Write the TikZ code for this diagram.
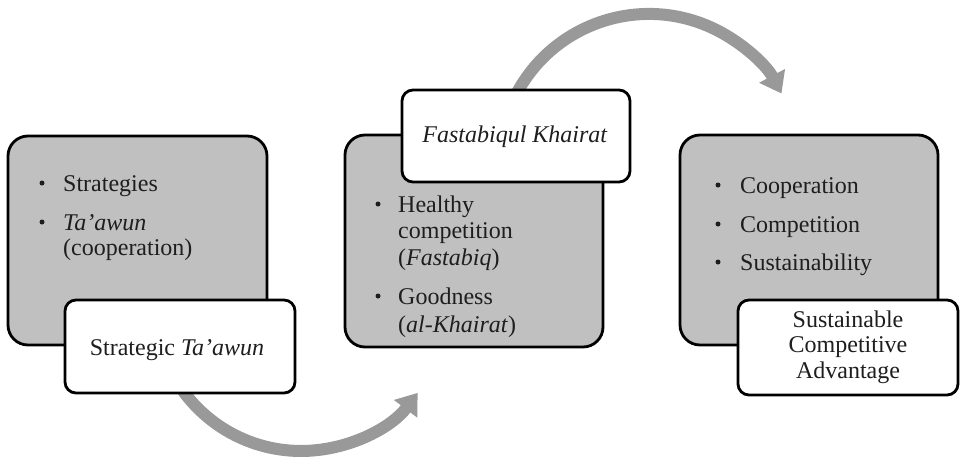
\documentclass[tikz,border=0pt]{standalone}
\usepackage{fontspec}
\setmainfont{Liberation Serif}
\usetikzlibrary{arrows.meta}
\definecolor{boxgray}{RGB}{192,192,192}
\definecolor{arrowgray}{RGB}{153,153,153}
\definecolor{txt}{RGB}{30,30,30}
\begin{document}
\begin{tikzpicture}[x=1pt,y=-1pt,
 graybox/.style={rectangle, draw=black, line width=2.8pt, fill=boxgray, rounded corners=20pt, inner sep=0pt},
 whitebox/.style={rectangle, draw=black, line width=2.8pt, fill=white, rounded corners=11pt, inner sep=0pt},
 band/.style={draw=arrowgray, line width=12pt, -{Triangle[length=20pt,width=28pt]}},
 txtnode/.style={inner sep=0pt, text=txt},
 bul/.style={circle, fill=txt, inner sep=0pt, minimum size=5pt},
]
\fill[white] (0,0) rectangle (964,464);
\useasboundingbox (0,0) rectangle (964,464);

% arrows
\coordinate (a1s) at (178.6,384.5);
\coordinate (a2s) at (514.2,98.2);
\draw[band] (a1s) arc[start angle=147, end angle=37, radius=146];
\draw[band] (a2s) arc[start angle=206, end angle=332, radius=150];

% gray boxes
\node[graybox, minimum width=259pt, minimum height=209pt] (g1) at (137.5,240.5) {};
\node[graybox, minimum width=258pt, minimum height=212pt] (g2) at (474,241) {};
\node[graybox, minimum width=258pt, minimum height=210pt] (g3) at (809,240) {};

% white boxes
\node[whitebox, minimum width=230pt, minimum height=93pt] (w1) at (180,346.5) {};
\node[whitebox, minimum width=228pt, minimum height=92pt] (w2) at (516,136) {};
\node[whitebox, minimum width=220pt, minimum height=95pt] (w3) at (848,347.5) {};

% box 1 text (base anchor = last line baseline)
\node[bul] (b1a) at (42,183) {};
\node[bul] (b1b) at (42,222) {};
\node[txtnode, anchor=base west, align=left, font=\fontsize{24}{25}\selectfont] (t1a) at (63,191) {Strategies};
\node[txtnode, anchor=base west, align=left, font=\fontsize{24}{25}\selectfont] (t1b) at (63,255) {\textit{Ta’awun}\\(cooperation)};

% box 2 text
\node[bul] (b2a) at (378,204) {};
\node[bul] (b2b) at (378,296) {};
\node[txtnode, anchor=base west, align=left, font=\fontsize{24}{26.5}\selectfont] (t2a) at (398,265) {Healthy\\competition\\(\textit{Fastabiq})};
\node[txtnode, anchor=base west, align=left, font=\fontsize{24}{28}\selectfont] (t2b) at (398,332) {Goodness\\(\textit{al-Khairat})};

% box 3 text
\node[bul] (b3a) at (718,185) {};
\node[bul] (b3b) at (718,224) {};
\node[bul] (b3c) at (718,262) {};
\node[txtnode, anchor=base west, font=\fontsize{24}{25}\selectfont] (t3a) at (740,193) {Cooperation};
\node[txtnode, anchor=base west, font=\fontsize{24}{25}\selectfont] (t3b) at (740,232) {Competition};
\node[txtnode, anchor=base west, font=\fontsize{24}{25}\selectfont] (t3c) at (740,270) {Sustainability};

% white box texts
\node[txtnode, anchor=base, font=\fontsize{24}{25}\selectfont] (w1t) at (177,355) {Strategic \textit{Ta’awun}};
\node[txtnode, anchor=base, font=\fontsize{24}{25}\selectfont] (w2t) at (515,142) {\textit{Fastabiqul Khairat}};
\node[txtnode, anchor=base, align=center, font=\fontsize{24}{25.5}\selectfont] (w3t) at (848,378) {Sustainable\\Competitive\\Advantage};
\end{tikzpicture}
\end{document}
